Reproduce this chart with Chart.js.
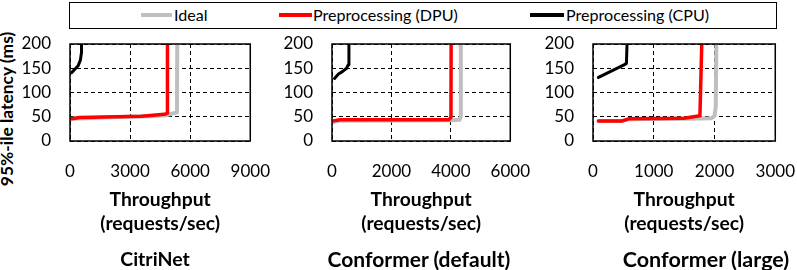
<!DOCTYPE html>
<html lang="en">
<head>
<meta charset="UTF-8">
<title>Latency vs throughput</title>
<style>
  body { margin: 0; width: 797px; height: 270px; position: relative; overflow: hidden; background: #fff; font-family: Lato, sans-serif; color: #000; }
  canvas { position: absolute; top: 0; }
  .legend { position: absolute; left: 69px; top: 2px; width: 706px; height: 25px; border: 1.5px solid #000; }
  .swatch { position: absolute; top: 13px; height: 4px; }
  .label { position: absolute; top: 4px; font-size: 16.1px; line-height: 22px; white-space: nowrap; }
  .ytitle { position: absolute; left: -93px; top: 99px; width: 200px; line-height: 20px; text-align: center;
            font-size: 17.4px; font-weight: bold; transform: rotate(-90deg); white-space: nowrap; }
  .sub { position: absolute; top: 247px; width: 240px; text-align: center; font-weight: bold; line-height: 24px; white-space: nowrap; }
</style>
<script src="https://cdn.jsdelivr.net/npm/chart.js"></script>
</head>
<body>
<div class="legend"></div>
<div class="swatch" style="left:141px;width:31px;background:#bfbfbf"></div>
<div class="label" style="left:174px">Ideal</div>
<div class="swatch" style="left:279px;width:33px;background:#ff0000"></div>
<div class="label" style="left:313px">Preprocessing (DPU)</div>
<div class="swatch" style="left:530px;width:34px;background:#000"></div>
<div class="label" style="left:566px">Preprocessing (CPU)</div>

<div class="ytitle">95%-ile latency (ms)</div>

<canvas id="c1" width="290" height="270" style="left:0px"></canvas>
<canvas id="c2" width="290" height="270" style="left:260px"></canvas>
<canvas id="c3" width="290" height="270" style="left:525px"></canvas>

<div class="sub" style="left:35px;font-size:19.5px">CitriNet</div>
<div class="sub" style="left:299px;font-size:21px">Conformer (default)</div>
<div class="sub" style="left:586px;font-size:21.5px">Conformer (large)</div>

<script>
const yTicks = [0, 50, 100, 150, 200];
const citriTicks = [0, 3000, 6000, 9000];
const confTicks = [0, 2000, 4000, 6000];
const largeTicks = [0, 1000, 2000, 3000];

// [throughput, latency]
const citriIdeal = [[80, 46], [2000, 49], [4000, 51], [4800, 53], [5340, 59], [5355, 200]];
const citriDpu = [[80, 46], [490, 48.5], [3570, 51], [4700, 55], [4860, 57], [4865, 200]];
const citriCpu = [[80, 141], [243, 148], [405, 155], [520, 167], [568, 181], [575, 200]];

const confIdeal = [[50, 39], [300, 42], [4000, 43], [4300, 44], [4330, 50], [4335, 200]];
const confDpu = [[53, 41.5], [272, 44], [3930, 44], [4003, 48.5], [4010, 200]];
const confCpu = [[86, 129], [217, 138], [348, 143], [491, 150], [545, 157], [570, 200]];

const largeIdeal = [[90, 41], [470, 41], [600, 45], [1500, 46], [1950, 47], [2000, 52], [2020, 70], [2030, 200]];
const largeDpu = [[90, 41], [470, 41], [600, 46], [1500, 47], [1760, 52], [1790, 200]];
const largeCpu = [[90, 131], [510, 157], [550, 160], [560, 200]];

const panels = [
  { id: 'c1', left: 0, plotLeft: 70, plotRight: 255, max: 9000, ticks: citriTicks, ideal: citriIdeal, dpu: citriDpu, cpu: citriCpu },
  { id: 'c2', left: 260, plotLeft: 332, plotRight: 515, max: 6000, ticks: confTicks, ideal: confIdeal, dpu: confDpu, cpu: confCpu },
  { id: 'c3', left: 525, plotLeft: 593, plotRight: 778, max: 3000, ticks: largeTicks, ideal: largeIdeal, dpu: largeDpu, cpu: largeCpu }
];

// solid box round the plot area
const frame = {
  id: 'frame',
  afterDatasetsDraw(chart) {
    const { ctx, chartArea: a } = chart;
    ctx.save();
    ctx.strokeStyle = '#000';
    ctx.lineWidth = 1.5;
    ctx.strokeRect(a.left, a.top, a.right - a.left, a.bottom - a.top);
    ctx.restore();
  }
};

const pts = arr => arr.map(([x, y]) => ({ x, y }));
const tickFont = { family: 'Lato', size: 17 };

panels.forEach(p => {
  new Chart(document.getElementById(p.id), {
    type: 'line',
    data: {
      datasets: [
        { label: 'Preprocessing (CPU)', data: pts(p.cpu), borderColor: '#000', borderWidth: 3 },
        { label: 'Preprocessing (DPU)', data: pts(p.dpu), borderColor: '#ff0000', borderWidth: 3.5 },
        { label: 'Ideal', data: pts(p.ideal), borderColor: '#bfbfbf', borderWidth: 4 }
      ]
    },
    options: {
      responsive: false,
      animation: false,
      devicePixelRatio: 1,
      elements: { point: { radius: 0 }, line: { tension: 0, borderCapStyle: 'round', borderJoinStyle: 'round' } },
      layout: { padding: { top: 44, bottom: 22, left: 0, right: 290 - (p.plotRight - p.left) } },
      plugins: { legend: { display: false }, tooltip: { enabled: false } },
      scales: {
        x: {
          type: 'linear', min: 0, max: p.max,
          afterBuildTicks: s => { s.ticks = p.ticks.map(v => ({ value: v })); },
          afterFit: s => { s.height = 107; },
          grid: { color: '#000', lineWidth: 1, drawTicks: false },
          border: { display: false, dash: [4, 3] },
          ticks: { padding: 20, color: '#000', font: tickFont, maxRotation: 0, autoSkip: false, callback: v => String(v) },
          title: {
            display: true, text: ['Throughput', '(requests/sec)'], color: '#000',
            font: { family: 'Lato', size: 19.3, weight: 'bold', lineHeight: 24 / 19.3 },
            padding: { top: 0, bottom: 12.5 }
          }
        },
        y: {
          min: 0, max: 200,
          afterBuildTicks: s => { s.ticks = yTicks.map(v => ({ value: v })); },
          afterFit: s => { s.width = p.plotLeft - p.left; },
          grid: { color: '#000', lineWidth: 1, drawTicks: false },
          border: { display: false, dash: [4, 3] },
          ticks: { padding: 19, color: '#000', font: tickFont }
        }
      }
    },
    plugins: [frame]
  });
});
</script>
</body>
</html>
